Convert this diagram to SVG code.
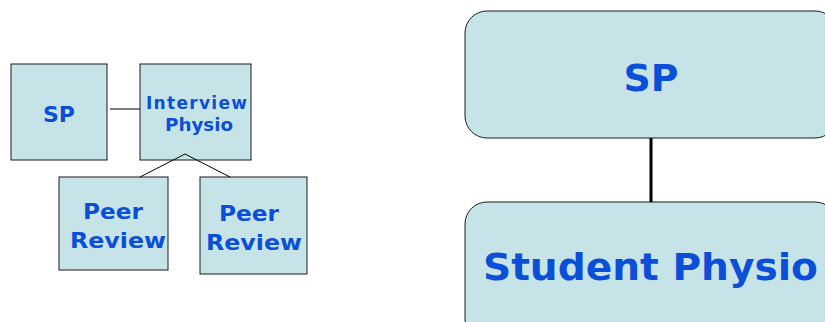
<svg xmlns="http://www.w3.org/2000/svg" width="825" height="322" viewBox="0 0 825 322">
  <style>
    .box { fill: #c6e4e8; stroke: #1a1a1a; stroke-width: 1; }
    .lbl { font-family: "DejaVu Sans", Verdana, sans-serif; font-weight: bold; fill: #0b4fd9; text-anchor: middle; }
    .wire { stroke: #000; fill: none; }
  </style>
  <rect width="825" height="322" fill="#ffffff"/>

  <!-- small tree -->
  <g id="sp-small">
    <rect class="box" x="11" y="64" width="96" height="96"/>
    <text class="lbl" x="59" y="122" font-size="22" textLength="32" lengthAdjust="spacingAndGlyphs">SP</text>
  </g>
  <g id="interview-physio">
    <rect class="box" x="140" y="64" width="111" height="96"/>
    <text class="lbl" x="196.5" y="109" font-size="17" textLength="101" lengthAdjust="spacing">Interview</text>
    <text class="lbl" x="199" y="131" font-size="17" textLength="68" lengthAdjust="spacingAndGlyphs">Physio</text>
  </g>
  <g id="peer-review-1">
    <rect class="box" x="59" y="177" width="109" height="93"/>
    <text class="lbl" x="113" y="219" font-size="22" textLength="60" lengthAdjust="spacingAndGlyphs">Peer</text>
    <text class="lbl" x="118" y="248" font-size="22" textLength="96" lengthAdjust="spacingAndGlyphs">Review</text>
  </g>
  <g id="peer-review-2">
    <rect class="box" x="200" y="177" width="107" height="97"/>
    <text class="lbl" x="249" y="221" font-size="22" textLength="60" lengthAdjust="spacingAndGlyphs">Peer</text>
    <text class="lbl" x="254" y="250" font-size="22" textLength="96" lengthAdjust="spacingAndGlyphs">Review</text>
  </g>

  <!-- large pair -->
  <g id="sp-large">
    <rect class="box" x="465" y="11" width="372" height="127" rx="22" ry="22"/>
    <text class="lbl" x="651" y="91" font-size="38" textLength="55" lengthAdjust="spacingAndGlyphs">SP</text>
  </g>
  <g id="student-physio">
    <rect class="box" x="465" y="202" width="372" height="140" rx="22" ry="22"/>
    <text class="lbl" x="650.5" y="280" font-size="38" textLength="335" lengthAdjust="spacingAndGlyphs">Student Physio</text>
  </g>

  <!-- connectors, drawn over the boxes -->
  <g id="connectors">
    <line class="wire" x1="110" y1="109" x2="140" y2="109" stroke-width="1"/>
    <line class="wire" x1="185" y1="154" x2="140" y2="177" stroke-width="1"/>
    <line class="wire" x1="185" y1="154" x2="230" y2="177" stroke-width="1"/>
    <line class="wire" x1="651" y1="138" x2="651" y2="202" stroke-width="3"/>
  </g>
</svg>
